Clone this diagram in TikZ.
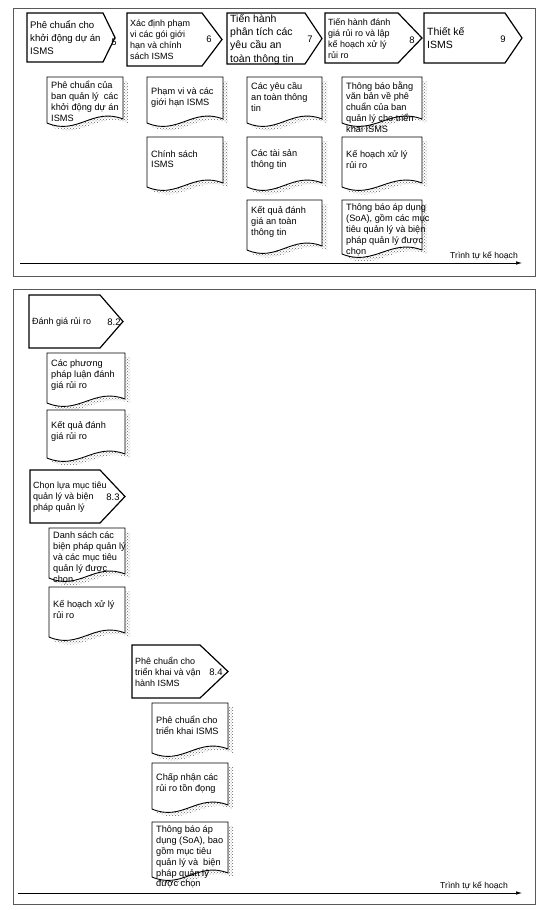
\documentclass[tikz,border=0pt]{standalone}
\usepackage{fontspec}
\setmainfont{Liberation Sans}
\usetikzlibrary{arrows.meta,patterns}

\tikzset{
  stage/.style={anchor=north west,inner sep=3pt,align=left,font=\fontsize{9}{11}\selectfont},
  stagebig/.style={font=\fontsize{10.5}{13.3}\selectfont},
  stageline/.style={draw,line width=1.2pt,line join=miter},
  stagenum/.style={inner sep=0pt,font=\fontsize{9.5}{11}\selectfont},
  docnode/.style={anchor=north west,inner sep=4pt,align=left,font=\fontsize{9.2}{10.8}\selectfont},
  docline/.style={draw,line width=0.9pt,fill=white},
  docshade/.style={pattern=crosshatch dots,pattern color=black!60},
  panel/.style={draw=black!65,line width=0.6pt},
  timeline/.style={-{Latex[length=6pt,width=3.5pt]},line width=0.6pt},
  timelabel/.style={inner sep=1pt,font=\fontsize{8.6}{10}\selectfont}
}

% document page: name, left, top, width, height, text
\newcommand{\docpage}[6]{%
  \pgfmathsetmacro{\docbody}{#5-6}%
  \fill[docshade] ({#2+5},{#3+4}) -- ({#2+#4+5},{#3+4}) -- ({#2+#4+5},{#3+#5})
    .. controls +({-0.4*#4},-12) and +({0.4*#4},13) .. ({#2+5},{#3+#5+4}) -- cycle;
  \draw[docline] (#2,#3) -- ({#2+#4},#3) -- ({#2+#4},{#3+#5-4})
    .. controls +({-0.4*#4},-12) and +({0.4*#4},13) .. (#2,{#3+#5}) -- cycle;
  \node[docnode,minimum height=\docbody pt] (#1) at (#2,#3) {#6};
}

\begin{document}
\begin{tikzpicture}[x=1pt,y=-1pt]
\useasboundingbox (0,0) rectangle (549,910);

% ---- top panel
\draw[panel] (13,8) rectangle (535,276);

\node[stage,font=\fontsize{9.6}{13.3}\selectfont,minimum height=49pt] (s5) at (27,13) {Phê chuẩn cho\\khởi động dự án\\ISMS};
\draw[stageline] (s5.north west) -- ++(76,0) -- ++(12,24.5) -- ++(-12,24.5) -- ++(-76,0) -- cycle;
\node[stagenum] (n5) at (114,42) {5};

\node[stage,minimum height=53pt] (s6) at (127,13) {Xác định phạm\\vi các gói giới\\hạn và chính\\sách ISMS};
\draw[stageline] (s6.north west) -- ++(75,0) -- ++(20,26.5) -- ++(-20,26.5) -- ++(-75,0) -- cycle;
\node[stagenum] (n6) at (209,39) {6};

\node[stage,stagebig,inner ysep=1pt,minimum height=51pt] (s7) at (227,13) {Tiến hành\\phân tích các\\yêu cầu an\\toàn thông tin};
\draw[stageline] (s7.north west) -- ++(78,0) -- ++(17,25.5) -- ++(-17,25.5) -- ++(-78,0) -- cycle;
\node[stagenum] (n7) at (310,39) {7};

\node[stage,minimum height=50pt] (s8) at (325,13) {Tiến hành đánh\\giá rủi ro và lập\\kế hoạch xử lý\\rủi ro};
\draw[stageline] (s8.north west) -- ++(73,0) -- ++(24,25) -- ++(-24,25) -- ++(-73,0) -- cycle;
\node[stagenum] (n8) at (412,40) {8};

\node[stage,stagebig,minimum height=50pt] (s9) at (424,13) {Thiết kế\\ISMS};
\draw[stageline] (s9.north west) -- ++(81,0) -- ++(17,25) -- ++(-17,25) -- ++(-81,0) -- cycle;
\node[stagenum] (n9) at (503,39) {9};

\docpage{d1}{47}{77}{76}{46}{Phê chuẩn của\\ban quản lý~ các\\khởi động dự án\\ISMS}
\docpage{d2}{147}{77}{76}{46}{Phạm vi và các\\giới hạn ISMS}
\docpage{d3}{147}{137}{76}{50}{Chính sách\\ISMS}
\docpage{d4}{247}{77}{75}{46}{Các yêu cầu\\an toàn thông\\tin}
\docpage{d5}{247}{137}{75}{50}{Các tài sản\\thông tin}
\docpage{d6}{247}{200}{75}{50}{Kết quả đánh\\giá an toàn\\thông tin}
\docpage{d7}{342}{77}{80}{46}{Thông báo bằng\\văn bản về phê\\chuẩn của ban\\quản lý cho triển\\khai ISMS}
\docpage{d8}{342}{137}{80}{50}{Kế hoạch xử lý\\rủi ro}
\docpage{d9}{342}{200}{80}{54}{Thông báo áp dụng\\(SoA), gồm các mục\\tiêu quản lý và biện\\pháp quản lý được\\chọn}

\coordinate (ta) at (20,263);
\coordinate (tb) at (522,263);
\draw[timeline] (ta) -- (tb);
\node[timelabel,anchor=south east] (tl) at (519,261) {Trình tự kế hoạch};

% ---- bottom panel
\draw[panel] (13,289) rectangle (535,904);

\node[stage,minimum height=53pt] (p82) at (29,295) {Đánh giá rủi ro};
\draw[stageline] (p82.north west) -- ++(71,0) -- ++(23,26.5) -- ++(-23,26.5) -- ++(-71,0) -- cycle;
\node[stagenum] (n82) at (114,322) {8.2};

\docpage{e1}{47}{353}{78}{50}{Các phương\\pháp luận đánh\\giá rủi ro}
\docpage{e2}{47}{410}{78}{48}{Kết quả đánh\\giá rủi ro}

\node[stage,minimum height=53pt] (p83) at (30,470) {Chọn lựa mục tiêu\\quản lý và biện\\pháp quản lý};
\draw[stageline] (p83.north west) -- ++(70,0) -- ++(25,26.5) -- ++(-25,26.5) -- ++(-70,0) -- cycle;
\node[stagenum] (n83) at (113,497) {8.3};

\docpage{e3}{49}{528}{76}{50}{Danh sách các\\biện pháp quản lý\\và các mục tiêu\\quản lý được\\chọn}
\docpage{e4}{49}{587}{76}{50}{Kế hoạch xử lý\\rủi ro}

\node[stage,minimum height=53pt] (p84) at (132,645) {Phê chuẩn cho\\triển khai và vận\\hành ISMS};
\draw[stageline] (p84.north west) -- ++(68,0) -- ++(28,26.5) -- ++(-28,26.5) -- ++(-68,0) -- cycle;
\node[stagenum] (n84) at (216,672) {8.4};

\docpage{e5}{152}{703}{76}{50}{Phê chuẩn cho\\triển khai ISMS}
\docpage{e6}{152}{763}{76}{46}{Chấp nhận các\\rủi ro tồn đọng}
\docpage{e7}{152}{822}{76}{55}{Thông báo áp\\dụng (SoA), bao\\gồm mục tiêu\\quản lý và~ biện\\pháp quản lý\\được chọn}

\coordinate (ba) at (18,893);
\coordinate (bb) at (522,893);
\draw[timeline] (ba) -- (bb);
\node[timelabel,anchor=south east] (bl) at (509,891) {Trình tự kế hoạch};
\end{tikzpicture}
\end{document}
